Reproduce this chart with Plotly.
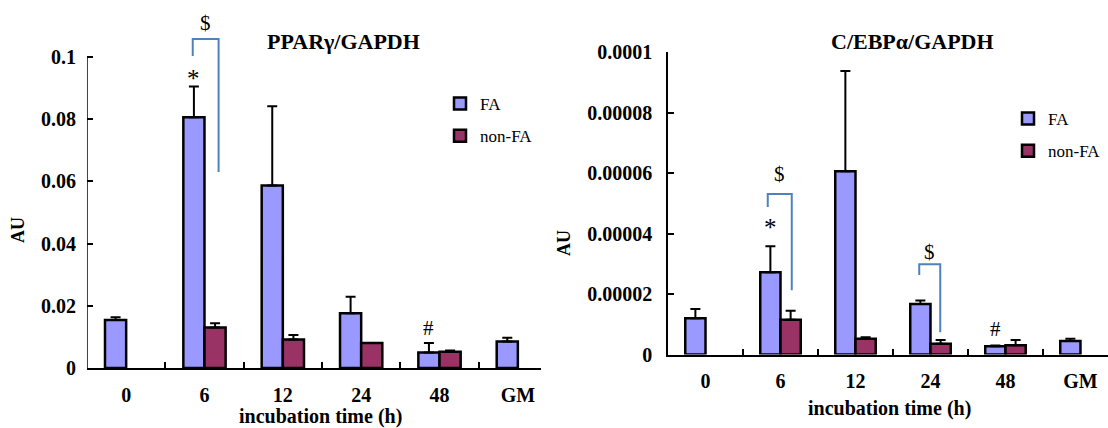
import plotly.graph_objects as go

# Incubation time points (h); GM = growth medium control
hours = ["0", "6", "12", "24", "48", "GM"]
pos = [0, 1, 2, 3, 4, 5]

# PPARγ / GAPDH (AU): means and upper SD
ppar_fa = [0.0154, 0.0806, 0.0587, 0.0176, 0.0050, 0.0085]
ppar_fa_err = [0.0009, 0.0099, 0.0255, 0.0053, 0.0030, 0.0012]
ppar_non = [None, 0.0130, 0.0092, 0.0080, 0.0052, None]
ppar_non_err = [0, 0.0014, 0.0014, 0.0, 0.0004, 0]

# C/EBPα / GAPDH (AU): means and upper SD
cebp_fa = [1.20e-5, 2.72e-5, 6.06e-5, 1.67e-5, 2.7e-6, 4.5e-6]
cebp_fa_err = [0.31e-5, 0.86e-5, 3.32e-5, 0.12e-5, 0.3e-6, 0.7e-6]
cebp_non = [None, 1.15e-5, 5.2e-6, 3.6e-6, 3.1e-6, None]
cebp_non_err = [0, 0.30e-5, 0.5e-6, 1.2e-6, 1.7e-6, 0]

ppar_ticks = [0, 0.02, 0.04, 0.06, 0.08, 0.1]
ppar_ticktext = ["0", "0.02", "0.04", "0.06", "0.08", "0.1"]
cebp_ticks = [0, 0.00002, 0.00004, 0.00006, 0.00008, 0.0001]
cebp_ticktext = ["0", "0.00002", "0.00004", "0.00006", "0.00008", "0.0001"]

# Significance brackets: category, left/right leg offsets, top, left-leg end, right-leg end
ppar_brackets = [(1, -0.15, 0.18, 0.1058, 0.1003, 0.0630)]
cebp_brackets = [(1, -0.17, 0.15, 5.31e-5, 4.88e-5, 2.13e-5),
                 (3, -0.15, 0.13, 2.99e-5, 2.63e-5, 0.74e-5)]

# Marks above bars: (text, category, x offset, y, font size)
ppar_marks = [("*", 1, -0.135, 0.0930, 25), ("$", 1, 0.015, 0.1110, 21),
              ("#", 4, -0.135, 0.0128, 21)]
cebp_marks = [("*", 1, -0.135, 4.20e-5, 25), ("$", 1, -0.01, 5.97e-5, 21),
              ("$", 3, -0.01, 3.39e-5, 21), ("#", 4, -0.135, 0.84e-5, 21)]

FA_COLOR = "#9999FF"
NON_COLOR = "#993366"
BRACKET_COLOR = "#4F81BD"
SERIF = "Liberation Serif"

fig = go.Figure()


def add_panel(xa, ya, leg, fa, fa_err, non, non_err):
    err_style = dict(type="data", symmetric=False, color="black", thickness=2, width=5)
    fig.add_trace(go.Bar(
        x=pos, y=fa, name="FA", xaxis=xa, yaxis=ya, legend=leg, legendgroup="fa",
        marker=dict(color=FA_COLOR, line=dict(color="black", width=2.5)),
        error_y=dict(array=fa_err, arrayminus=[0] * len(fa), **err_style),
    ))
    fig.add_trace(go.Bar(
        x=pos, y=non, name="non-FA", xaxis=xa, yaxis=ya, legend=leg, legendgroup="non",
        marker=dict(color=NON_COLOR, line=dict(color="black", width=2.5)),
        error_y=dict(array=non_err, arrayminus=[0] * len(non), **err_style),
    ))


def add_brackets(xa, ya, brackets):
    for cat, lo, hi, top, lend, rend in brackets:
        fig.add_trace(go.Scatter(
            x=[cat + lo, cat + lo, cat + hi, cat + hi], y=[lend, top, top, rend],
            xaxis=xa, yaxis=ya, mode="lines", cliponaxis=False, showlegend=False,
            line=dict(color=BRACKET_COLOR, width=2), hoverinfo="skip",
        ))


def add_marks(xref, yref, marks):
    for text, cat, off, y, size in marks:
        fig.add_annotation(x=cat + off, y=y, xref=xref, yref=yref, text=text,
                           showarrow=False, xanchor="center", yanchor="middle",
                           font=dict(family=SERIF, size=size, color="black"))


add_panel("x", "y", "legend", ppar_fa, ppar_fa_err, ppar_non, ppar_non_err)
add_panel("x2", "y2", "legend2", cebp_fa, cebp_fa_err, cebp_non, cebp_non_err)
add_brackets("x", "y", ppar_brackets)
add_brackets("x2", "y2", cebp_brackets)
add_marks("x", "y", ppar_marks)
add_marks("x2", "y2", cebp_marks)

tick_font = dict(family=SERIF, size=20, color="black", weight="bold")
boundaries = [p + 0.5 for p in pos[:-1]]


def xaxis_style(domain, rng, anchor):
    return dict(
        domain=domain, range=rng, anchor=anchor, tickmode="array", tickvals=pos,
        ticktext=hours, ticks="", showline=True, linecolor="black", linewidth=1.5,
        showgrid=False, zeroline=False, tickfont=tick_font, ticklabelstandoff=8,
        automargin=False,
        minor=dict(tickmode="array", tickvals=boundaries, ticks="inside", ticklen=6,
                   tickwidth=1.5, tickcolor="black", showgrid=False),
    )


def yaxis_style(domain, rng, anchor, vals, text, line=True):
    return dict(
        domain=domain, range=rng, anchor=anchor, tickmode="array", tickvals=vals,
        ticktext=text, ticks="inside", ticklen=6, tickwidth=1.5, tickcolor="black",
        showline=line, linecolor="black", linewidth=1.5, showgrid=False,
        zeroline=False, tickfont=tick_font, ticklabelstandoff=10, automargin=False,
    )


legend_style = dict(font=dict(family=SERIF, size=17, color="black"), bgcolor="rgba(0,0,0,0)",
                    itemwidth=30, tracegroupgap=7, xanchor="left", yanchor="top",
                    traceorder="grouped", itemclick=False, itemdoubleclick=False)

# The PPARγ panel leaves headroom above 0.1 for its bracket; its y axis line stops at 0.1
fig.update_layout(
    width=1108, height=428, margin=dict(l=0, r=0, t=0, b=0, autoexpand=False),
    paper_bgcolor="white", plot_bgcolor="white",
    barmode="group", bargap=0.46, bargroupgap=0,
    showlegend=True,
    xaxis=xaxis_style([0.0785, 0.4883], [-0.5, 5.296], "y"),
    yaxis=yaxis_style([0.1402, 0.9758], [0, 0.115], "x", ppar_ticks, ppar_ticktext, line=False),
    xaxis2=xaxis_style([0.6029, 1.0], [-0.5, 5.367], "y2"),
    yaxis2=yaxis_style([0.1717, 0.8778], [0, 0.0001], "x2", cebp_ticks, cebp_ticktext),
    legend=dict(x=440 / 1108, y=1 - 86 / 428, **legend_style),
    legend2=dict(x=1008 / 1108, y=1 - 101 / 428, **legend_style),
)
fig.add_shape(type="line", xref="x", yref="y", x0=-0.5, x1=-0.5, y0=0, y1=ppar_ticks[-1],
              line=dict(color="black", width=1.5))

label_font = dict(family=SERIF, size=20, color="black", weight="bold")
title_font = dict(family=SERIF, size=22, color="black", weight="bold")
texts = [
    ("PPARγ/GAPDH", 343, 41, 0, title_font),
    ("C/EBPα/GAPDH", 912, 41, 0, title_font),
    ("incubation time (h)", 320, 416, 0, label_font),
    ("incubation time (h)", 889, 408, 0, label_font),
    ("AU", 18, 230, -90, dict(label_font, size=18)),
    ("AU", 564, 243, -90, dict(label_font, size=18)),
]
for text, px, py, ang, font in texts:
    fig.add_annotation(x=px / 1108, y=1 - py / 428, xref="paper", yref="paper", text=text,
                       showarrow=False, xanchor="center", yanchor="middle",
                       textangle=ang, font=font)

fig.write_html("out.html")
